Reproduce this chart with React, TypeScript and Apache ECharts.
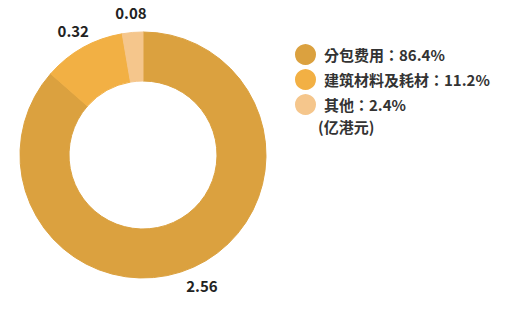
import React, { useEffect, useRef } from "react";
import * as echarts from "echarts";

const categories = ["分包费用", "建筑材料及耗材", "其他"];
const values = [2.56, 0.32, 0.08];
const percents = ["86.4%", "11.2%", "2.4%"];
const colors = ["#DBA13F", "#F2B044", "#F5C68C"];
const unitLabel = "(亿港元)";

const FONT = "'Noto Sans CJK TC', 'Noto Sans', sans-serif";

export default function App() {
  const ref = useRef<HTMLDivElement>(null);
  useEffect(() => {
    if (!ref.current) return;
    const chart = echarts.init(ref.current, null, { renderer: "svg" });
    const data = categories.map((name, i) => ({
      name,
      value: values[i],
      itemStyle: { color: colors[i], borderColor: colors[i], borderWidth: 1 },
    }));
    const labelData = categories.map((name, i) => ({
      name: name + "_label",
      value: values[i],
    }));
    chart.setOption({
      animation: false,
      backgroundColor: "#ffffff",
      legend: {
        orient: "vertical",
        left: 290,
        top: 39,
        icon: "circle",
        itemWidth: 19,
        itemHeight: 19,
        itemGap: 4,
        data: categories,
        formatter: (name: string) => {
          const i = categories.indexOf(name);
          return name + "：" + percents[i];
        },
        textStyle: {
          fontFamily: FONT,
          fontSize: 15,
          fontWeight: "bold",
          lineHeight: 19,
          color: "#333333",
          padding: [0, 0, 0, 4],
        },
        selectedMode: false,
      },
      graphic: [
        {
          type: "text",
          left: 318,
          top: 119,
          style: {
            text: unitLabel,
            fontFamily: FONT,
            fontSize: 15,
            fontWeight: "bold",
            fill: "#333333",
          },
        },
      ],
      series: [
        {
          type: "pie",
          center: [143, 155],
          radius: [74, 123],
          startAngle: 90,
          clockwise: true,
          data,
          label: { show: false },
          labelLine: { show: false },
          emphasis: { disabled: true },
        },
        {
          type: "pie",
          center: [143, 155],
          radius: [138, 142],
          startAngle: 90,
          clockwise: true,
          silent: true,
          data: labelData,
          itemStyle: { color: "transparent", borderWidth: 0 },
          label: {
            show: true,
            position: "inside",
            formatter: (p: any) => p.value.toFixed(2),
            fontFamily: FONT,
            fontSize: 15,
            fontWeight: "bold",
            color: "#222222",
          },
          labelLine: { show: false },
          emphasis: { disabled: true },
        },
      ],
    });
    return () => chart.dispose();
  }, []);
  return <div ref={ref} style={{ width: 518, height: 314, position: "absolute", left: 0, top: 0 }} />;
}
